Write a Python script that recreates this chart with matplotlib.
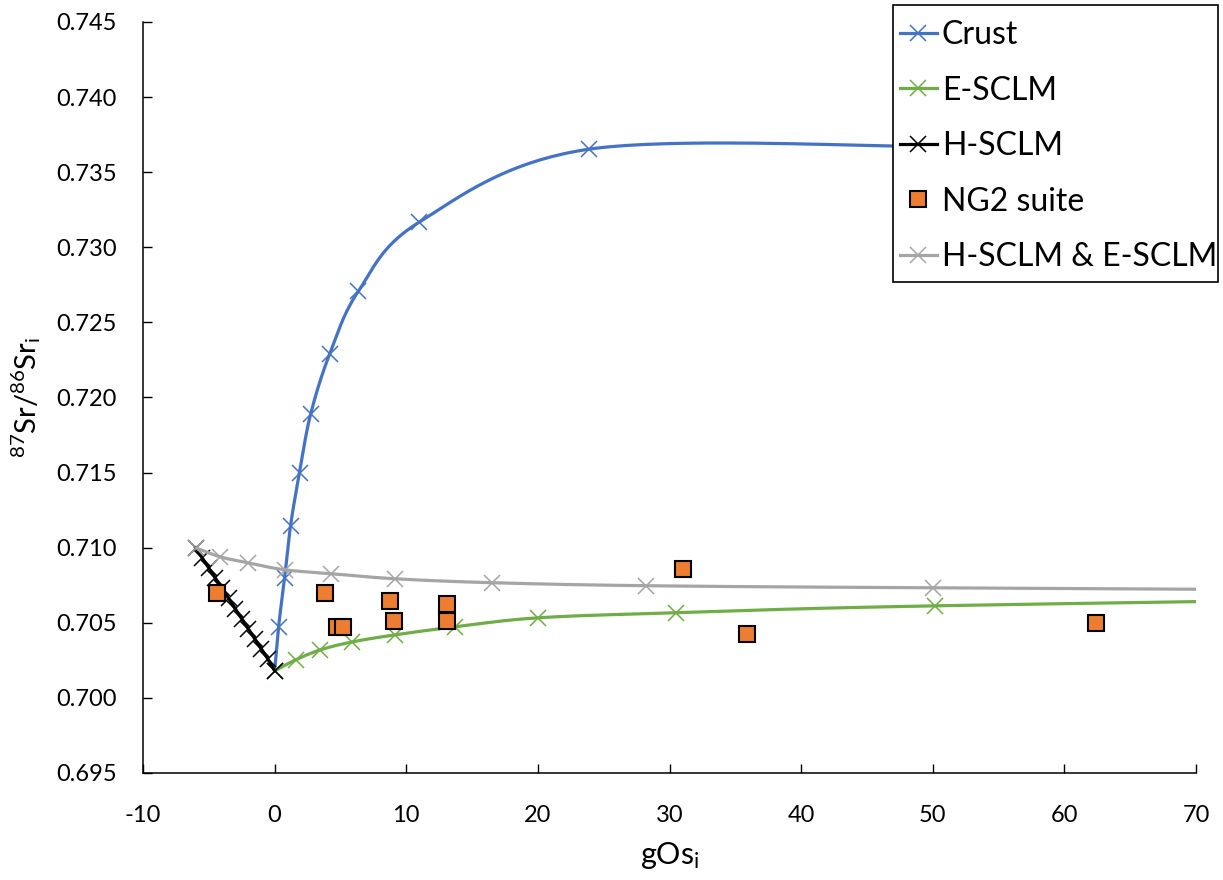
import numpy as np
import matplotlib
matplotlib.use("Agg")
import matplotlib.pyplot as plt
from matplotlib.lines import Line2D
from matplotlib.patches import Rectangle

plt.rcParams['font.family'] = ['Lato', 'DejaVu Sans']
plt.rcParams['mathtext.fontset'] = 'custom'
plt.rcParams['mathtext.rm'] = 'Lato'
plt.rcParams['mathtext.it'] = 'Lato:italic'

# --- data -------------------------------------------------------------
crust_x = [0.0, 0.30, 0.76, 1.21, 1.89, 2.73, 4.17, 6.36, 10.98, 23.86, 50.0]
crust_y = [0.7018, 0.70473, 0.7080, 0.71147, 0.7150, 0.71887, 0.72287, 0.72707, 0.73167, 0.73653, 0.7367]

escl_x = [0.0, 1.59, 3.48, 5.91, 9.17, 13.71, 20.0, 30.5, 50.2, 100.0]
escl_y = [0.7018, 0.70253, 0.7032, 0.70373, 0.7042, 0.70473, 0.70533, 0.70567, 0.70613, 0.7068]

hscl_x = [-6.0, -5.5, -5.0, -4.5, -4.0, -3.5, -3.0, -2.5, -2.0, -1.5, -1.0, -0.5, 0.0]
hscl_y = [0.7100, 0.70932, 0.70865, 0.70797, 0.70730, 0.70662, 0.70595, 0.70527,
          0.70460, 0.70392, 0.70325, 0.70257, 0.7018]

mix_x = [-6.0, -4.17, -2.05, 0.76, 4.32, 9.17, 16.5, 28.2, 50.0, 100.0]
mix_y = [0.7100, 0.7094, 0.7090, 0.70853, 0.70827, 0.70793, 0.70767, 0.70747, 0.70733, 0.7071]

ng2_x = [-4.39, 3.79, 4.77, 5.23, 8.79, 9.09, 13.11, 13.11, 31.06, 35.9, 62.4]
ng2_y = [0.7070, 0.7070, 0.70473, 0.70473, 0.70647, 0.70513, 0.70627, 0.70513, 0.70860, 0.70427, 0.70500]

xticks = [-10, 0, 10, 20, 30, 40, 50, 60, 70]
yticks = [0.695, 0.700, 0.705, 0.710, 0.715, 0.720, 0.725, 0.730, 0.735, 0.740, 0.745]

BLUE = '#4472C4'
GREEN = '#70AD47'
GREY = '#A5A5A5'
ORANGE = '#ED7D31'

W, H = 1223, 880
fig = plt.figure(figsize=(W / 100, H / 100), dpi=100)
ax = fig.add_axes([143 / W, 1 - 773 / H, (1196 - 143) / W, (773 - 22) / H])
ax.set_xlim(-10, 70)
ax.set_ylim(0.695, 0.745)


def smooth(xs, ys, n=40):
    """Bezier smoothing through the points (computed in screen-scaled units)."""
    x0, x1 = ax.get_xlim()
    y0, y1 = ax.get_ylim()
    w = ax.bbox.width / (x1 - x0)
    h = ax.bbox.height / (y1 - y0)
    P = np.column_stack([(np.asarray(xs) - x0) * w, (np.asarray(ys) - y0) * h])
    out = [P[0]]
    m = len(P)
    for i in range(m - 1):
        p0 = P[i - 1] if i > 0 else P[i]
        p1, p2 = P[i], P[i + 1]
        p3 = P[i + 2] if i + 2 < m else P[i + 1]
        c1 = p1 + (p2 - p0) / 6.0
        c2 = p2 - (p3 - p1) / 6.0
        t = np.linspace(0, 1, n)[1:, None]
        seg = ((1 - t) ** 3) * p1 + 3 * ((1 - t) ** 2) * t * c1 + 3 * (1 - t) * t ** 2 * c2 + t ** 3 * p2
        out.extend(seg)
    out = np.array(out)
    return out[:, 0] / w + x0, out[:, 1] / h + y0


lw = 2.3
ms = 12
mew = 1.1

# Crust
sx, sy = smooth(crust_x, crust_y)
ax.plot(sx, sy, color=BLUE, lw=lw, zorder=2, solid_capstyle='butt')
ax.plot(crust_x, crust_y, ls='none', marker='x', ms=ms, mew=mew, color=BLUE, zorder=2)

# E-SCLM
sx, sy = smooth(escl_x, escl_y)
ax.plot(sx, sy, color=GREEN, lw=lw, zorder=3, solid_capstyle='butt')
ax.plot(escl_x, escl_y, ls='none', marker='x', ms=ms, mew=mew, color=GREEN, zorder=3)

# H-SCLM
ax.plot(hscl_x, hscl_y, color='black', lw=lw, marker='x', ms=ms, mew=mew, zorder=4)

# NG2 suite
ax.plot(ng2_x, ng2_y, ls='none', marker='s', ms=12, mfc=ORANGE, mec='black', mew=1.5, zorder=5)

# H-SCLM & E-SCLM mixing
sx, sy = smooth(mix_x, mix_y)
ax.plot(sx, sy, color=GREY, lw=lw, zorder=6, solid_capstyle='butt')
ax.plot(mix_x, mix_y, ls='none', marker='x', ms=ms, mew=mew, color=GREY, zorder=6)

ax.set_xticks(xticks)
ax.set_yticks(yticks)
ax.set_xticklabels([str(v) for v in xticks])
ax.set_yticklabels([f"{v:.3f}" for v in yticks])
ax.tick_params(direction='in', length=6.5, width=1, labelsize=17, colors='black')
ax.tick_params(axis='y', pad=19)
ax.tick_params(axis='x', pad=23)
for s in ['top', 'right']:
    ax.spines[s].set_visible(False)
for s in ['left', 'bottom']:
    ax.spines[s].set_linewidth(1.1)

ax.set_xlabel(r'gOs$_\mathregular{i}$', fontsize=22, labelpad=10)
ax.set_ylabel(r'$\mathregular{^{87}Sr/^{86}Sr_i}$', fontsize=21, labelpad=9)

# Legend: white box with black border, entries placed inside it
box = Rectangle((893 / W, 1 - 282 / H), (1218 - 893) / W, (282 - 5) / H,
                transform=fig.transFigure, facecolor='white', edgecolor='black',
                linewidth=1.2, zorder=9)
fig.patches.append(box)

handles = [
    Line2D([], [], color=BLUE, lw=lw, marker='x', ms=ms, mew=mew),
    Line2D([], [], color=GREEN, lw=lw, marker='x', ms=ms, mew=mew),
    Line2D([], [], color='black', lw=lw, marker='x', ms=ms, mew=mew),
    Line2D([], [], ls='none', marker='s', ms=12, mfc=ORANGE, mec='black', mew=1.5),
    Line2D([], [], color=GREY, lw=lw, marker='x', ms=ms, mew=mew),
]
labels = ['Crust', 'E-SCLM', 'H-SCLM', 'NG2 suite', 'H-SCLM & E-SCLM']
leg = fig.legend(handles, labels, loc='upper left',
                 bbox_to_anchor=(900 / W, 1 - 20 / H), bbox_transform=fig.transFigure,
                 fontsize=23, frameon=False, handlelength=1.15, handletextpad=0.16,
                 labelspacing=0.8, borderpad=0, borderaxespad=0)
leg.set_zorder(10)

fig.savefig('out.png', dpi=100)
